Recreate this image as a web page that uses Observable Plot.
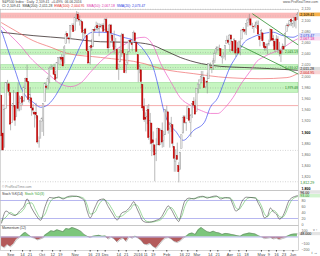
<!DOCTYPE html>
<html><head><meta charset="utf-8">
<script src="https://cdn.jsdelivr.net/npm/d3@7"></script>
<script src="https://cdn.jsdelivr.net/npm/@observablehq/plot@0.6"></script>
<style>
body{margin:0;background:#fff;}
#wrap{position:relative;width:320px;height:256px;overflow:hidden;background:#fff;}
.p{position:absolute;left:0;}
</style></head><body>
<div id="wrap">
  <div id="main" class="p" style="top:0px"></div>
  <div id="stoch" class="p" style="top:190px"></div>
  <div id="mom" class="p" style="top:225px"></div>
</div>
<script>
// ---- daily OHLC (index 0 = 24 Aug 2015 ... 197 = 6 Jun 2016)
const O = [1966,1898,1872,1942,1986,1986,1970,1917,1950,1947,
1927,1971,1941,1951,1963,1955,1979,1996,1990,1961,
1961,1943,1935,1935,1929,1883,1888,1919,1921,1954,
1982,1983,1994,2013,2015,2015,2003,1996,2024,2032,
2033,2033,2022,2058,2076,2068,2067,2089,2090,2081,
2103,2110,2101,2098,2097,2077,2084,2072,2044,2023,
2054,2052,2083,2082,2090,2084,2089,2089,2090,2082,
2101,2080,2051,2091,2073,2061,2047,2047,2014,2025,
2046,2074,2040,2010,2024,2043,2064,2058,2060,2077,
2060,2038,2013,2011,1985,1945,1926,1927,1940,1892,
1916,1886,1877,1861,1877,1906,1878,1903,1885,1895,
1937,1936,1907,1912,1913,1874,1848,1858,1840,1833,
1871,1898,1927,1916,1924,1942,1917,1931,1955,1947,
1937,1977,1985,1994,1997,1997,1981,1990,1995,2019,
2016,2015,2027,2041,2048,2049,2049,2033,2037,2035,
2058,2064,2056,2073,2062,2045,2063,2045,2050,2043,
2066,2083,2083,2078,2096,2100,2102,2092,2089,2089,
2093,2090,2071,2067,2077,2060,2053,2047,2057,2062,
2083,2067,2062,2047,2066,2045,2045,2041,2053,2052,
2079,2091,2091,2101,2093,2097,2104,2101];
const H = [1966,1949,1943,1989,1993,1987,1970,1948,1975,1947,
1970,1988,1965,1961,1963,1983,1997,2020,1990,1980,
1961,1950,1937,1952,1929,1892,1920,1927,1951,1989,
1985,1999,2017,2021,2019,2022,2009,2024,2033,2035,
2039,2038,2055,2080,2076,2070,2090,2094,2094,2106,
2116,2114,2108,2101,2097,2083,2086,2072,2044,2053,
2066,2083,2087,2097,2095,2094,2093,2094,2094,2103,
2104,2085,2093,2093,2073,2081,2068,2047,2022,2053,
2077,2076,2040,2022,2044,2064,2067,2058,2081,2077,
2062,2038,2021,2011,1985,1960,1935,1947,1950,1934,
1916,1901,1877,1889,1908,1906,1906,1917,1902,1940,
1947,1936,1918,1927,1913,1874,1869,1881,1846,1864,
1895,1930,1930,1918,1946,1942,1932,1951,1962,1958,
1978,1986,1993,2009,2009,1997,1992,2006,2022,2024,
2016,2032,2046,2053,2053,2056,2049,2037,2042,2055,
2072,2067,2075,2074,2062,2067,2063,2061,2063,2065,
2083,2087,2083,2094,2104,2111,2104,2095,2089,2097,
2099,2099,2073,2084,2077,2060,2058,2057,2065,2084,
2083,2073,2066,2073,2071,2061,2045,2058,2056,2079,
2094,2094,2099,2103,2100,2105,2105,2114];
const L = [1867,1867,1872,1942,1976,1965,1903,1916,1944,1911,
1927,1937,1937,1939,1948,1954,1977,1988,1953,1951,
1929,1933,1908,1924,1879,1872,1888,1900,1893,1954,
1976,1976,1987,2012,2013,2003,1990,1996,2021,2019,
2026,2017,2022,2058,2067,2058,2066,2082,2079,2081,
2097,2097,2090,2084,2066,2069,2074,2045,2023,2020,
2045,2052,2078,2082,2081,2071,2086,2084,2080,2082,
2077,2042,2051,2067,2052,2040,2047,2011,1993,2025,
2034,2041,2005,2005,2020,2043,2058,2044,2060,2061,
2043,1989,2005,1979,1938,1918,1901,1914,1886,1878,
1857,1864,1812,1848,1877,1875,1878,1872,1873,1895,
1921,1897,1872,1900,1872,1829,1829,1850,1810,1833,
1871,1898,1915,1902,1924,1919,1891,1925,1946,1931,
1937,1969,1977,1987,1990,1979,1979,1969,1995,2013,
2005,2011,2023,2041,2044,2045,2034,2022,2031,2028,
2058,2057,2043,2062,2042,2043,2034,2039,2040,2037,
2066,2078,2074,2073,2088,2094,2089,2084,2077,2086,
2084,2072,2053,2066,2054,2045,2045,2039,2054,2062,
2064,2053,2043,2047,2041,2035,2025,2041,2047,2052,
2079,2087,2089,2089,2086,2088,2085,2100];
const C = [1893,1868,1940,1988,1988,1972,1914,1948,1951,1921,
1970,1942,1953,1961,1953,1979,1996,1990,1958,1967,
1943,1939,1932,1931,1882,1884,1920,1924,1951,1987,
1979,1996,2014,2014,2017,2003,1994,2024,2033,2033,
2030,2018,2052,2075,2071,2066,2090,2089,2079,2104,
2109,2102,2100,2099,2078,2081,2076,2045,2023,2053,
2051,2083,2081,2089,2086,2089,2088,2090,2080,2102,
2079,2050,2091,2077,2063,2047,2052,2012,2021,2043,
2073,2041,2006,2021,2038,2064,2061,2056,2078,2063,
2044,2012,2016,1990,1943,1922,1923,1938,1890,1921,
1880,1881,1859,1868,1906,1877,1903,1882,1893,1940,
1939,1903,1913,1915,1880,1853,1852,1851,1829,1864,
1895,1926,1917,1917,1945,1921,1929,1951,1948,1932,
1978,1986,1993,1999,2001,1979,1989,1989,2022,2019,
2015,2027,2040,2049,2051,2049,2036,2035,2037,2055,
2063,2060,2073,2066,2045,2066,2041,2047,2041,2061,
2082,2082,2080,2094,2100,2102,2091,2092,2088,2091,
2095,2075,2065,2081,2063,2051,2050,2057,2058,2084,
2064,2064,2047,2066,2047,2047,2040,2052,2048,2076,
2090,2090,2099,2097,2099,2105,2099,2110];

// ---- moving averages (index, price)
const ma20Idx = [0,4,9,13,17,21,26,30,35,39,44,51,55,61,67,73,81,88,95,101,105,108,111,116,121,128,135,139,144,148,152,157,161,167,172,181,186,194,197];
const ma20 = [2082,2050,2011,1980,1962,1954,1945,1948,1962,1980,2005,2046,2068,2079,2079,2077,2070,2064,2046,2016,1975,1939,1918,1902,1886,1904,1918,1945,1962,1989,2016,2039,2059,2070,2075,2079,2074,2070,2073];
const ma50Idx = [0,6,13,19,26,33,39,46,53,59,66,75,83,89,95,101,106,113,119,126,133,139,144,149,154,160,166,170,174,179,184,189,194,197];
const ma50 = [2089,2073,2054,2034,2016,2000,1987,1982,1989,2007,2027,2046,2059,2068,2070,2055,2023,1989,1962,1948,1939,1934,1934,1945,1962,1989,2011,2027,2034,2041,2046,2054,2063,2067];
const ma100Idx = [0,9,21,33,44,66,95,106,128,150,172,190,197];
const ma100 = [2096,2082,2064,2052,2041,2034,2023,2014,2005,1998,1996,1998,2005];
const ma200Idx = [0,21,44,66,86,99,109,119,133,146,162,179,197];
const ma200 = [2079,2073,2068,2062,2061,2057,2046,2034,2023,2018,2016,2014,2011];

// ---- zones, levels, trendlines
const greenLo = [2039,2012,1971];
const greenHi = [2047,2020,1988];
const greenText = ["2,043.19","2,016.02","1,979.48"];
const pinkLo = [2103];
const pinkHi = [2113];
const redLevels = [1948];
const dottedLevels = [2120,1868,1812];
const trendX1 = [167,159], trendY1 = [2112,2055], trendX2 = [197.7,197.7], trendY2 = [2056,2004];

const priceTicks = [1820,1840,1860,1880,1920,1940,1960,1980,2000,2020,2040,2060,2080,2100,2120];
const priceTicksBold = [1800,1900];

// ---- stochastic
const stochIdx = [0,3,6,9,12,15,17,20,23,26,29,32,35,38,41,44,47,50,53,55,57,59,62,65,68,71,74,77,80,83,86,88,90,92,94,97,100,103,106,109,111,113,116,118,120,122,125,128,131,134,137,140,143,146,149,152,154,156,158,160,163,166,169,171,173,175,177,179,181,183,185,187,189,191,193,195,197];
const stochK = [5,45,35,30,45,62,85,55,30,14,60,90,88,92,85,93,95,94,88,80,45,22,55,82,85,60,35,15,38,45,62,76,55,33,12,7,9,14,22,48,62,50,22,10,45,78,88,85,92,94,88,93,95,85,90,88,66,45,52,76,91,90,88,70,50,22,28,55,42,35,18,26,48,76,88,93,96];
const stochD = [12,25,40,32,38,52,70,72,45,22,35,72,88,90,88,90,93,94,91,86,65,35,40,68,83,72,48,25,28,40,52,66,65,48,25,10,8,11,16,35,52,56,35,18,28,60,84,87,89,92,91,90,93,90,88,89,78,56,50,62,84,90,89,80,62,36,26,40,47,40,26,24,36,60,80,89,93];

// ---- momentum (12)
const momIdx = [0,2,4,6,8,10,12,13,15,16,18,20,22,24,26,28,29,31,33,35,37,39,41,43,45,47,49,51,53,55,57,59,61,63,65,67,69,71,73,75,77,79,81,83,85,87,89,91,93,95,97,99,101,103,105,107,109,111,113,115,117,119,121,123,125,127,129,131,133,135,137,139,141,143,145,147,149,151,153,155,157,159,161,163,165,167,169,171,173,175,177,179,181,183,185,187,189,191,193,195,197];
const momVal = [-140,-165,-120,-150,-110,-40,-10,20,60,70,30,-5,-20,-45,-30,-10,30,60,95,85,110,95,80,130,120,145,130,110,85,40,10,-10,10,20,25,10,15,-30,-5,-30,-80,-40,-20,-70,0,-20,10,-20,-55,-110,-120,-100,-150,-175,-120,-60,-20,-10,-30,-70,-85,-60,-20,10,50,60,40,110,145,110,80,70,90,70,60,40,55,50,40,30,20,10,40,50,60,55,45,20,0,-25,-20,-10,-30,-20,-40,-25,-10,20,40,45,48];

// ---- date axis
const tickIdx = [6,14,19,27,34,39,49,59,64,69,78,83,91,96,101,110,120,124,130,139,144,152,158,163,173,178,183,188,194];
const tickLab = ["Sep","14","21","Oct","12","19","Nov","16","23","Dec","14","21","2016","11","19","Feb","16","22","Mar","14","21","Apr","11","18","May","9","16","23","Jun"];

// ---- value tags on right axis
const tagP = [2110,2073.4,2066.6,2012.8,2006.4,1810];
const tagText = ["2,109.41","2,073.47","2,067.18","2,011.28","2,004.95","1,812.29"];
const tagFg = ["#000","#2233cc","#cc2299","#222","#cc2222","#228822"];
const tagBg = ["#f6b04a","#dde0fb","#fbdcf0","#dddddd","#f8d4d4","#ffffff"];

// ---- header legend
const headerLine = "S&P500 Index · Daily  2,109.41  +0.49%  06.06.2016";
const legendText = ["Cl: 2,109.41  SMA(200): 2,011.28  ","EMA(100): 2,004.95  ","SMA(50): 2,067.18  ","SMA(20): 2,073.47"];
const legendColor = ["#333","#dd2a2a","#dd33aa","#2a3ae0"];

// =====================================================
const FONT = "'Liberation Sans', Arial, sans-serif";
const FS = 3.6;
const xDomain = [-0.7, 197.7];
const st = {fontSize:FS+"px", fontFamily:FONT, overflow:"visible", background:"transparent"};
const pts = (idx, v) => idx.map((i,k)=>({i, v:v[k]}));
const candles = C.map((c,i)=>({i, o:O[i], h:H[i], l:L[i], c}));
const up = candles.filter(d=>d.c>=d.o), dn = candles.filter(d=>d.c<d.o);
const greens = greenLo.map((lo,k)=>({lo, hi:greenHi[k], t:greenText[k]}));
const pinks = pinkLo.map((lo,k)=>({lo, hi:pinkHi[k]}));
const trends = trendX1.map((x1,k)=>({x1, y1:trendY1[k], x2:trendX2[k], y2:trendY2[k]}));
const tags = tagP.map((p,k)=>({p, t:tagText[k], fg:tagFg[k], bg:tagBg[k]}));
const fmt = d3.format(",");

const main = Plot.plot({
  width:320, height:190, marginTop:9, marginBottom:0, marginLeft:0, marginRight:22,
  style: st,
  x:{domain:xDomain, axis:null},
  y:{domain:[1796.4,2119.6], axis:null},
  marks:[
    Plot.rect(pinks, {x1:()=>xDomain[0], x2:()=>xDomain[1], y1:"lo", y2:"hi", fill:"#fbbaba"}),
    Plot.rect(greens, {x1:()=>xDomain[0], x2:()=>xDomain[1], y1:"lo", y2:"hi", fill:"#c6f5c0", stroke:"#7fd27a", strokeWidth:0.5}),
    Plot.ruleY(greens, {y:d=>(d.lo+d.hi)/2, stroke:"#999", strokeWidth:0.5, strokeDasharray:"1,1.5"}),
    Plot.ruleY(pinks, {y:d=>(d.lo+d.hi)/2, stroke:"#bbb", strokeWidth:0.5, strokeDasharray:"1,1.5"}),
    Plot.ruleY(dottedLevels, {stroke:"#aaa", strokeWidth:0.5, strokeDasharray:"1,1.5"}),
    Plot.ruleY(redLevels, {stroke:"#f08a8a", strokeWidth:0.7}),
    Plot.line(pts(ma200Idx, ma200), {x:"i", y:"v", stroke:"#3a2d2d", strokeWidth:0.8, curve:"monotone-x"}),
    Plot.line(pts(ma100Idx, ma100), {x:"i", y:"v", stroke:"#ef6a6a", strokeWidth:0.7, curve:"monotone-x"}),
    Plot.line(pts(ma50Idx, ma50), {x:"i", y:"v", stroke:"#ee5fc4", strokeWidth:0.7, curve:"monotone-x"}),
    Plot.line(pts(ma20Idx, ma20), {x:"i", y:"v", stroke:"#3f4ff0", strokeWidth:0.7, curve:"monotone-x"}),
    Plot.ruleX(candles, {x:"i", y1:"l", y2:"h", stroke:"#808080", strokeWidth:0.55}),
    Plot.rect(up, {x1:d=>d.i-0.42, x2:d=>d.i+0.42, y1:"o", y2:"c", fill:"#fff", stroke:"#999", strokeWidth:0.45}),
    Plot.rect(dn, {x1:d=>d.i-0.42, x2:d=>d.i+0.42, y1:"o", y2:"c", fill:"#d40000", stroke:"#b00000", strokeWidth:0.4}),
    Plot.link(trends, {x1:"x1", y1:"y1", x2:"x2", y2:"y2", stroke:"#2f8f2f", strokeWidth:0.8}),
    Plot.text(greens, {x:()=>197.2, y:d=>(d.lo+d.hi)/2, text:"t", fill:"#228822", textAnchor:"end", fontSize:3.3}),
    Plot.frame({stroke:"#bbb", strokeWidth:0.6}),
    Plot.axisY(priceTicks, {anchor:"right", tickSize:0, tickPadding:3, tickFormat:fmt, color:"#666", fontSize:FS}),
    Plot.axisY(priceTicksBold, {anchor:"right", tickSize:0, tickPadding:3, tickFormat:fmt, color:"#000", fontWeight:"bold", fontSize:FS}),
    Plot.rect(tags, {x1:()=>198.4, x2:()=>212.8, y1:d=>d.p-3.3, y2:d=>d.p+3.3, fill:"bg"}),
    Plot.text(tags, {x:()=>198.9, y:"p", text:"t", fill:"fg", textAnchor:"start", fontSize:FS})
  ]
});
document.getElementById("main").append(main);

// header text (real text, tspans coloured like the legend)
const addText = (svg, x, y, size, fill, anchor) =>
  d3.select(svg).append("text").attr("x",x).attr("y",y).attr("font-size",size+"px")
    .attr("fill",fill).attr("text-anchor",anchor||"start").attr("font-family",FONT);
addText(main, 2, 3.4, 3.4, "#444").text(headerLine);
addText(main, 318, 3.4, 3.4, "#555", "end").text("www.ProRealTime.com");
const h2 = addText(main, 2, 7.4, 3.4, "#333");
legendText.forEach((t,k)=>h2.append("tspan").attr("fill",legendColor[k]).text(t));
addText(main, 2, 188, 3.3, "#888").text("© ProRealTime.com");

// stochastic panel
const kLast = stochK[stochK.length-1], dLast = stochD[stochD.length-1];
const stoch = Plot.plot({
  width:320, height:35, marginTop:0, marginBottom:0, marginLeft:0, marginRight:22,
  style: st,
  x:{domain:xDomain, axis:null},
  y:{domain:[-3.33,113.33], axis:null},
  marks:[
    Plot.ruleY([80,20], {stroke:"#b7b7f0", strokeWidth:1}),
    Plot.line(pts(stochIdx, stochD), {x:"i", y:"v", stroke:"#5cbf5c", strokeWidth:0.6, curve:"monotone-x"}),
    Plot.line(pts(stochIdx, stochK), {x:"i", y:"v", stroke:"#444", strokeWidth:0.6, curve:"monotone-x"}),
    Plot.frame({stroke:"#bbb", strokeWidth:0.6}),
    Plot.axisY([0,20,40,60,80], {anchor:"right", tickSize:0, tickPadding:3, color:"#666", fontSize:FS}),
    Plot.rect([kLast], {x1:()=>198.4, x2:()=>212.8, y1:()=>101, y2:()=>112.5, fill:"#e4e4e4"}),
    Plot.text([kLast], {x:()=>198.9, y:()=>106.8, text:d=>d.toFixed(2), textAnchor:"start", fill:"#000", fontSize:FS}),
    Plot.rect([dLast], {x1:()=>198.4, x2:()=>212.8, y1:()=>88.5, y2:()=>100, fill:"#d2f3cf"}),
    Plot.text([dLast], {x:()=>198.9, y:()=>94.2, text:d=>d.toFixed(2), textAnchor:"start", fill:"#228822", fontSize:FS})
  ]
});
document.getElementById("stoch").append(stoch);
const sl = addText(stoch, 2, 4.6, 3.4, "#333");
sl.append("tspan").attr("fill","#333").text("Stoch %K(14)  ");
sl.append("tspan").attr("fill","#2a9a2a").text("Stoch %D(3)");

// momentum panel + date axis
const mpts = pts(momIdx, momVal);
const mLast = momVal[momVal.length-1];
const mom = Plot.plot({
  width:320, height:31, marginTop:0, marginBottom:6, marginLeft:0, marginRight:22,
  style: st,
  x:{domain:xDomain, axis:null},
  y:{domain:[-208,177], axis:null},
  marks:[
    Plot.areaY(mpts, {x:"i", y:d=>Math.max(0,d.v), fill:"#7cc67c"}),
    Plot.areaY(mpts, {x:"i", y:d=>Math.min(0,d.v), fill:"#b45a5a"}),
    Plot.line(mpts, {x:"i", y:"v", stroke:"#666", strokeWidth:0.4}),
    Plot.ruleY([0], {stroke:"#b7b7f0", strokeWidth:1}),
    Plot.frame({stroke:"#bbb", strokeWidth:0.6}),
    Plot.axisY([100,-100,-200], {anchor:"right", tickSize:0, tickPadding:3, color:"#666", fontSize:FS}),
    Plot.rect([mLast], {x1:()=>198.4, x2:()=>212.8, y1:()=>20, y2:()=>70, fill:"#e4e4e4"}),
    Plot.text([mLast], {x:()=>198.9, y:()=>45, text:d=>d.toFixed(3), textAnchor:"start", fill:"#000", fontSize:FS}),
    Plot.axisX(tickIdx, {anchor:"bottom", tickSize:1.5, tickPadding:0.8, tickFormat:d=>tickLab[tickIdx.indexOf(d)], color:"#444", fontSize:4})
  ]
});
document.getElementById("mom").append(mom);
addText(mom, 2, 4.4, 3.4, "#333").text("Momentum (12)");
</script>
</body></html>
